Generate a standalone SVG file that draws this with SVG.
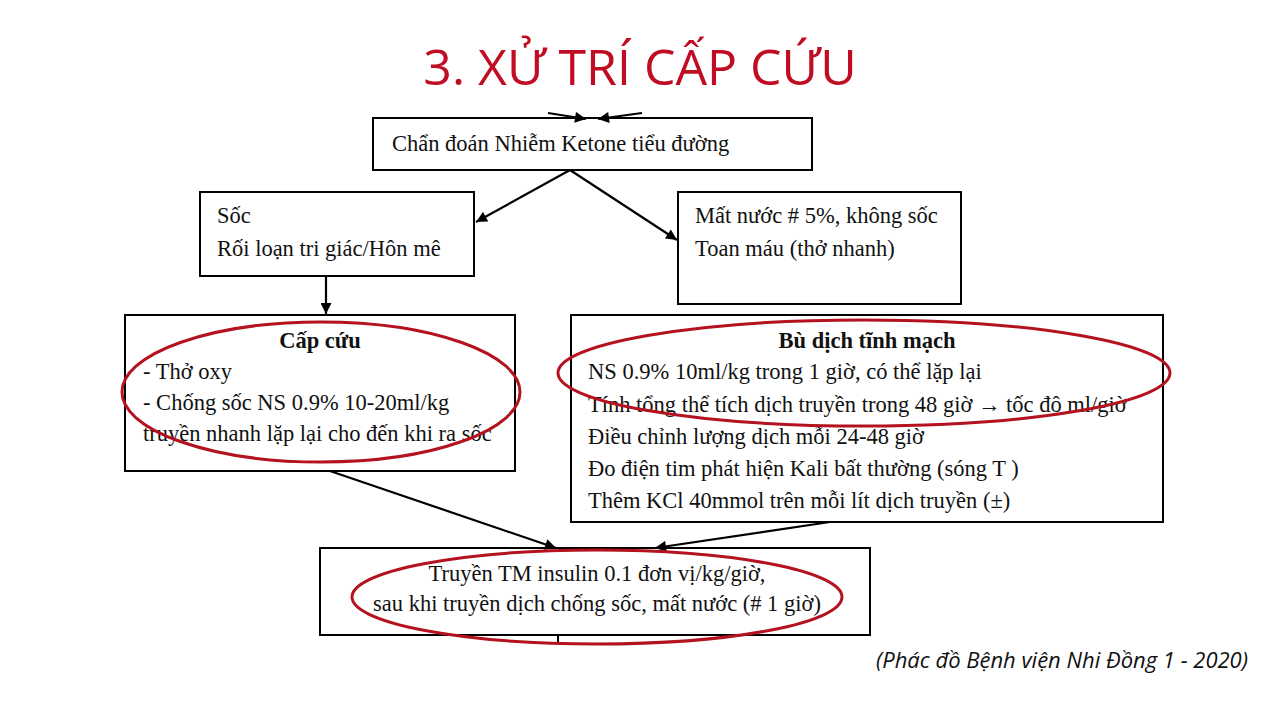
<svg xmlns="http://www.w3.org/2000/svg" width="1280" height="720" viewBox="0 0 1280 720">
<defs>
<marker id="ah" viewBox="0 0 10 10" refX="10" refY="5" markerWidth="12" markerHeight="11" markerUnits="userSpaceOnUse" orient="auto">
<path d="M0,0 L10,5 L0,10 z" fill="#000"/>
</marker>
<style>
.box{fill:#fff;stroke:#000;stroke-width:2}
.t{font-family:"Liberation Serif","Times New Roman",serif;font-size:22.5px;fill:#111}
.b{font-weight:bold}
.c{text-anchor:middle}
.conn line{stroke:#000;stroke-width:2.2;marker-end:url(#ah)}
.ring{fill:none;stroke:#b3121e;stroke-width:3}
</style>
</defs>
<rect width="1280" height="720" fill="#fff"/>
<text x="640" y="85" text-anchor="middle" style="font-family:'Open Sans','Noto Sans',sans-serif;font-size:50px;fill:#c00d24">3. XỬ TRÍ CẤP CỨU</text>

<g id="n1"><rect class="box" x="373" y="118" width="439" height="52"/>
<text class="t" x="392" y="151">Chẩn đoán Nhiễm Ketone tiểu đường</text></g>
<g id="n2"><rect class="box" x="200" y="192" width="274" height="84"/>
<text class="t" x="217" y="223">Sốc</text>
<text class="t" x="217" y="256">Rối loạn tri giác/Hôn mê</text></g>
<g id="n3"><rect class="box" x="678" y="192" width="283" height="112"/>
<text class="t" x="695" y="223">Mất nước # 5%, không sốc</text>
<text class="t" x="695" y="256">Toan máu (thở nhanh)</text></g>
<g id="n4"><rect class="box" x="125" y="315" width="390" height="156"/>
<text class="t b c" x="320" y="348">Cấp cứu</text>
<text class="t" x="143" y="379">- Thở oxy</text>
<text class="t" x="143" y="410">- Chống sốc NS 0.9% 10-20ml/kg</text>
<text class="t" x="143" y="441">truyền nhanh lặp lại cho đến khi ra sốc</text></g>
<g id="n5"><rect class="box" x="571" y="315" width="592" height="207"/>
<text class="t b c" x="867" y="348">Bù dịch tĩnh mạch</text>
<text class="t" x="588" y="379">NS 0.9% 10ml/kg trong 1 giờ, có thể lặp lại</text>
<text class="t" x="588" y="412">Tính tổng thể tích dịch truyền trong 48 giờ → tốc độ ml/giờ</text>
<text class="t" x="588" y="444">Điều chỉnh lượng dịch mỗi 24-48 giờ</text>
<text class="t" x="588" y="476">Đo điện tim phát hiện Kali bất thường (sóng T )</text>
<text class="t" x="588" y="508">Thêm KCl 40mmol trên mỗi lít dịch truyền (±)</text></g>
<g id="n6"><rect class="box" x="320" y="548" width="550" height="87"/>
<text class="t c" x="597" y="581">Truyền TM insulin 0.1 đơn vị/kg/giờ,</text>
<text class="t c" x="597" y="611">sau khi truyền dịch chống sốc, mất nước (# 1 giờ)</text></g>

<g id="connectors" class="conn">
<line x1="548" y1="113" x2="586" y2="119"/>
<line x1="642" y1="113" x2="598" y2="119"/>
<line x1="570" y1="170" x2="476" y2="222"/>
<line x1="570" y1="170" x2="677" y2="240"/>
<line x1="326" y1="276" x2="326" y2="314"/>
<line x1="330" y1="471" x2="556" y2="548"/>
<line x1="830" y1="522" x2="655" y2="548"/>
<path d="M558,635 L558,643" stroke="#000" stroke-width="2" fill="none"/>
</g>

<g id="rings">
<ellipse class="ring" cx="321" cy="392" rx="199" ry="70"/>
<ellipse class="ring" cx="864" cy="373" rx="306" ry="53"/>
<ellipse class="ring" cx="597" cy="597" rx="245" ry="47"/>
</g>

<text x="1248" y="668" text-anchor="end" style="font-family:'Open Sans','Noto Sans',sans-serif;font-style:italic;font-size:22px;fill:#111">(Phác đồ Bệnh viện Nhi Đồng 1 - 2020)</text>
</svg>
